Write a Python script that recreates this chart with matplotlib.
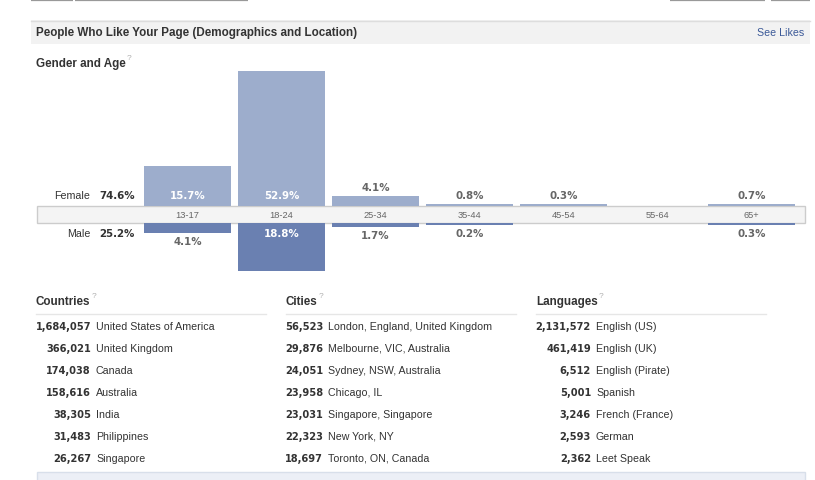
import numpy as np
import matplotlib
matplotlib.use("Agg")
import matplotlib.pyplot as plt
from matplotlib.patches import Rectangle

# data
ages = ["13-17", "18-24", "25-34", "35-44", "45-54", "55-64", "65+"]
female = [15.7, 52.9, 4.1, 0.8, 0.3, 0.0, 0.7]
male = [4.1, 18.8, 1.7, 0.2, 0.0, 0.0, 0.3]
female_total = "74.6%"
male_total = "25.2%"

countries = ["United States of America", "United Kingdom", "Canada", "Australia",
             "India", "Philippines", "Singapore"]
country_counts = [1684057, 366021, 174038, 158616, 38305, 31483, 26267]
cities = ["London, England, United Kingdom", "Melbourne, VIC, Australia",
          "Sydney, NSW, Australia", "Chicago, IL", "Singapore, Singapore",
          "New York, NY", "Toronto, ON, Canada"]
city_counts = [56523, 29876, 24051, 23958, 23031, 22323, 18697]
languages = ["English (US)", "English (UK)", "English (Pirate)", "Spanish",
             "French (France)", "German", "Leet Speak"]
language_counts = [2131572, 461419, 6512, 5001, 3246, 2593, 2362]

W, H = 815, 481
plt.rcParams['font.family'] = ['Liberation Sans', 'DejaVu Sans']
fig = plt.figure(figsize=(W / 100, H / 100), dpi=100)

# background axes in pixel coordinates for the page chrome and text
bg = fig.add_axes([0, 0, 1, 1])
bg.set_xlim(0, W)
bg.set_ylim(H, 0)
bg.axis('off')

dark = '#333333'
grey = '#666666'
fs = 7.7          # regular text
fs_b = 8.4        # bold headings
pct_font = dict(family='DejaVu Sans', fontweight='bold', fontsize=7.4)
num_font = dict(family='DejaVu Sans', fontweight='bold', fontsize=7.1)

# little tab strokes at the very top
for x0, x1 in [(31, 73), (75, 248), (670, 765), (771, 810)]:
    bg.plot([x0, x1], [0.8, 0.8], color='#999999', lw=1.6, solid_capstyle='butt')

# header bar
bg.add_patch(Rectangle((31, 21), 779, 24, facecolor='#f2f2f2', edgecolor='none'))
bg.plot([31, 810], [21.5, 21.5], color='#dddddd', lw=1)
bg.text(36, 33, "People Who Like Your Page (Demographics and Location)",
        fontsize=fs_b, fontweight='bold', color=dark, va='center')
bg.text(804, 33, "See Likes", fontsize=fs, color='#3b5998', va='center', ha='right')

gt = bg.text(36, 64, "Gender and Age", fontsize=fs_b, fontweight='bold', color=dark, va='center')

# axis band with age labels
bg.add_patch(Rectangle((36.5, 207), 768, 17, facecolor='#f4f4f4', edgecolor='#cccccc', lw=1))

bg.text(90, 196, "Female", fontsize=fs, color=dark, va='center', ha='right')
bg.text(99, 196, female_total, color=dark, va='center', **pct_font)
bg.text(90, 234, "Male", fontsize=fs, color=dark, va='center', ha='right')
bg.text(99, 234, male_total, color=dark, va='center', **pct_font)

# bar axes: 2.55 px per percent, bar pitch 94 px
ppp = 2.55
x_left, x_right = 140.5, 798.5
ax_f = fig.add_axes([x_left / W, (H - 207) / H, (x_right - x_left) / W, 160 / H])
ax_f.set_ylim(0, 160 / ppp)
ax_m = fig.add_axes([x_left / W, (H - 290) / H, (x_right - x_left) / W, 66 / H])
ax_m.set_ylim(66 / ppp, 0)
for a in (ax_f, ax_m):
    a.set_xlim(-0.5, len(ages) - 0.5)
    a.axis('off')
    a.patch.set_alpha(0)

idx = np.arange(len(ages))
min_h = 0.9
f_h = [max(v, min_h) if v > 0 else 0 for v in female]
m_h = [max(v, min_h) if v > 0 else 0 for v in male]
ax_f.bar(idx, f_h, width=87 / 94, color='#9dadcc', align='center')
ax_m.bar(idx, m_h, width=87 / 94, color='#6a80b1', align='center')

for i in idx:
    # age label in the band
    bg.text(187.5 + 94 * i, 215.5, ages[i], fontsize=6.7, color=grey, ha='center', va='center')
    if female[i] > 0:
        if female[i] > 8:
            ax_f.annotate(f"{female[i]}%", (i, 0), xytext=(0, 11), textcoords='offset pixels',
                          ha='center', va='center', color='white', **pct_font)
        else:
            ax_f.annotate(f"{female[i]}%", (i, f_h[i]), xytext=(0, 9), textcoords='offset pixels',
                          ha='center', va='center', color=grey, **pct_font)
    if male[i] > 0:
        if male[i] > 8:
            ax_m.annotate(f"{male[i]}%", (i, 0), xytext=(0, -10), textcoords='offset pixels',
                          ha='center', va='center', color='white', **pct_font)
        else:
            ax_m.annotate(f"{male[i]}%", (i, m_h[i]), xytext=(0, -8), textcoords='offset pixels',
                          ha='center', va='center', color=grey, **pct_font)

# location / language tables
tables = [("Countries", countries, country_counts, 36, 91, 96),
          ("Cities", cities, city_counts, 286, 323, 328),
          ("Languages", languages, language_counts, 536, 591, 596)]
heads = [gt]
for title, names, counts, x0, xnum, xname in tables:
    heads.append(bg.text(x0, 302, title, fontsize=fs_b, fontweight='bold', color=dark, va='center'))
    bg.plot([x0, x0 + 230], [314.5, 314.5], color='#e6e6e6', lw=1)
    for k, (name, c) in enumerate(zip(names, counts)):
        y = 327 + 22 * k
        bg.text(xnum, y, f"{c:,}", color=dark, ha='right', va='center', **num_font)
        bg.text(xname, y, name, fontsize=fs, color=dark, va='center')

# small help marks after the headings
fig.canvas.draw()
r = fig.canvas.get_renderer()
for t in heads:
    bb = t.get_window_extent(r)
    yy = t.get_position()[1] - 5
    bg.text(bb.x1 + 1, yy, "?", fontsize=6, color='#b0b0b0', va='center')

# bottom box
bg.add_patch(Rectangle((36.5, 473), 768, 12, facecolor='#eceff6', edgecolor='#d8dfea', lw=1))

fig.savefig("out.png", dpi=100)
